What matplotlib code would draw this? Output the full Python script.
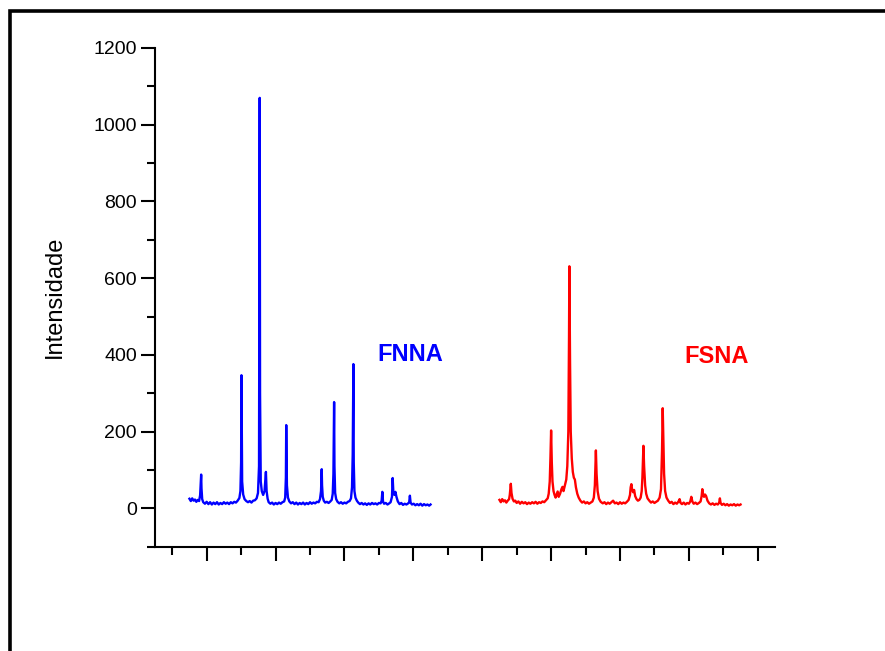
import matplotlib
matplotlib.use('Agg')
import matplotlib.pyplot as plt
import numpy as np
from matplotlib.patches import Rectangle
from matplotlib.ticker import MultipleLocator

plt.rcParams['font.family'] = ['Liberation Sans', 'DejaVu Sans']

# difratogramas (2theta, intensidade)
blue_2theta = [
    10.0, 10.4, 10.8, 11.2, 11.6, 12.0, 12.4, 12.8, 13.1, 13.3, 13.4, 13.5, 13.7, 14.0,
    14.5, 15.0, 15.5, 16.0, 16.5, 17.0, 17.5, 18.0, 18.5, 19.0, 19.5, 20.0, 20.5, 21.0,
    21.5, 22.0, 22.5, 23.0, 23.5, 24.0, 24.5, 24.8, 25.0, 25.1, 25.3, 25.6, 26.0, 26.5,
    27.0, 27.5, 28.0, 28.5, 29.0, 29.5, 29.9, 30.2, 30.4, 30.5, 30.7, 31.0, 31.4, 31.8,
    32.0, 32.2, 32.4, 32.7, 33.0, 33.5, 34.0, 34.5, 35.0, 35.5, 36.0, 36.5, 37.0, 37.5,
    37.8, 38.0, 38.1, 38.3, 38.6, 39.0, 39.5, 40.0, 40.5, 41.0, 41.5, 42.0, 42.5, 43.0,
    43.5, 44.0, 44.5, 45.0, 45.5, 46.0, 46.5, 47.0, 47.5, 47.9, 48.2, 48.4, 48.5, 48.7,
    49.0, 49.4, 49.9, 50.4, 50.9, 51.3, 51.6, 51.8, 52.0, 52.1, 52.3, 52.6, 53.0, 53.5,
    54.0, 54.5, 55.0, 55.5, 56.0, 56.5, 56.9, 57.2, 57.4, 57.6, 57.7, 57.9, 58.2, 58.6,
    59.0, 59.5, 60.0, 60.5, 61.0, 61.5, 62.0, 62.5, 63.0, 63.5, 64.0, 64.5, 65.0, 65.5,
    65.8, 66.0, 66.2, 66.5, 67.0, 67.5, 68.0, 68.4, 68.8, 69.0, 69.2, 69.5, 69.8, 70.1,
    70.5, 71.0, 71.5, 72.0, 72.5, 73.0, 73.5, 73.8, 74.0, 74.2, 74.6, 75.1, 75.6, 76.1,
    76.6, 77.1, 77.6, 78.1, 78.6, 79.1, 79.6, 80.0]
blue_counts = [
    25, 19, 26, 20, 23, 17, 22, 19, 34, 70, 88, 52, 24, 16,
    12, 17, 11, 16, 10, 15, 11, 16, 10, 14, 11, 16, 12, 15,
    11, 16, 13, 17, 15, 20, 27, 45, 120, 347, 70, 36, 24, 19,
    16, 19, 15, 20, 21, 26, 40, 110, 1070, 300, 70, 45, 35, 45,
    70, 95, 45, 25, 16, 12, 15, 10, 14, 11, 15, 12, 16, 18,
    28, 80, 217, 60, 28, 18, 13, 16, 11, 15, 10, 14, 11, 15,
    10, 14, 11, 16, 12, 15, 13, 17, 16, 24, 45, 102, 60, 30,
    20, 15, 17, 14, 18, 22, 38, 90, 277, 110, 40, 24, 17, 13,
    16, 12, 15, 13, 17, 19, 26, 55, 140, 376, 120, 45, 28, 20,
    15, 11, 14, 10, 13, 9, 13, 10, 14, 11, 13, 10, 14, 13,
    20, 43, 18, 12, 14, 10, 13, 16, 30, 79, 42, 35, 43, 30,
    18, 11, 14, 9, 12, 10, 13, 16, 33, 15, 10, 12, 8, 11,
    8, 12, 7, 11, 8, 10, 7, 10]

red_2theta = [
    10.0, 10.4, 10.8, 11.2, 11.6, 12.0, 12.4, 12.8, 13.0, 13.2, 13.3, 13.5, 13.8, 14.2,
    14.6, 15.0, 15.5, 16.0, 16.5, 17.0, 17.5, 18.0, 18.5, 19.0, 19.5, 20.0, 20.5, 21.0,
    21.5, 22.0, 22.5, 23.0, 23.5, 24.0, 24.3, 24.6, 24.8, 25.0, 25.2, 25.4, 25.7, 26.0,
    26.3, 26.6, 26.9, 27.2, 27.6, 28.0, 28.3, 28.6, 29.0, 29.4, 29.7, 30.0, 30.2, 30.3,
    30.5, 30.7, 31.0, 31.3, 31.6, 31.9, 32.2, 32.6, 33.0, 33.5, 34.0, 34.5, 35.0, 35.5,
    36.0, 36.5, 37.0, 37.4, 37.7, 37.9, 38.0, 38.2, 38.5, 38.9, 39.4, 40.0, 40.5, 41.0,
    41.5, 42.0, 42.5, 43.0, 43.5, 44.0, 44.5, 45.0, 45.5, 46.0, 46.5, 47.0, 47.5, 47.9,
    48.1, 48.3, 48.5, 48.8, 49.1, 49.4, 49.8, 50.2, 50.6, 51.0, 51.3, 51.5, 51.7, 51.8,
    52.0, 52.3, 52.6, 53.0, 53.5, 54.0, 54.5, 55.0, 55.5, 56.0, 56.5, 56.9, 57.2, 57.4,
    57.6, 57.8, 58.1, 58.5, 59.0, 59.5, 60.0, 60.5, 61.0, 61.5, 62.0, 62.3, 62.6, 63.0,
    63.5, 64.0, 64.5, 65.0, 65.4, 65.7, 66.0, 66.4, 66.9, 67.4, 67.9, 68.4, 68.7, 68.9,
    69.1, 69.4, 69.7, 70.0, 70.4, 70.9, 71.4, 71.9, 72.4, 72.9, 73.4, 73.8, 74.0, 74.2,
    74.6, 75.1, 75.6, 76.1, 76.6, 77.1, 77.6, 78.1, 78.6, 79.1, 79.6, 80.0]
red_counts = [
    22, 16, 24, 18, 21, 15, 20, 24, 35, 55, 64, 40, 25, 18,
    20, 14, 18, 12, 17, 13, 16, 11, 15, 12, 16, 13, 17, 12,
    16, 14, 18, 16, 21, 26, 38, 70, 130, 203, 120, 70, 45, 35,
    28, 36, 44, 30, 38, 50, 56, 45, 60, 75, 110, 200, 450, 631,
    380, 200, 130, 95, 80, 75, 55, 38, 28, 20, 15, 18, 13, 16,
    12, 15, 18, 28, 60, 120, 151, 90, 45, 25, 17, 13, 16, 11,
    15, 12, 16, 20, 13, 15, 11, 16, 12, 15, 13, 17, 22, 35,
    55, 63, 50, 42, 48, 32, 24, 20, 22, 28, 45, 80, 140, 163,
    110, 60, 38, 26, 20, 15, 18, 14, 17, 20, 28, 50, 150, 261,
    180, 90, 45, 28, 20, 14, 17, 11, 15, 12, 18, 24, 14, 11,
    15, 10, 14, 12, 18, 30, 18, 12, 15, 11, 14, 18, 32, 50,
    38, 30, 36, 32, 20, 13, 10, 13, 9, 12, 10, 15, 26, 14,
    9, 12, 8, 11, 7, 10, 8, 11, 7, 10, 8, 10]

RED_SHIFT = 90  # deslocamento horizontal da segunda amostra

fig = plt.figure(figsize=(8.85, 6.51), dpi=100)
ax = fig.add_axes([155 / 885, 1 - 546.7 / 651, 620 / 885, 498.7 / 651])

ax.plot(blue_2theta, blue_counts, color='#0000FF', lw=1.7)
ax.plot(np.array(red_2theta) + RED_SHIFT, red_counts, color='#FF0000', lw=1.7)

ax.text(74, 400, 'FNNA', color='#0000FF', fontsize=17, fontweight='bold', ha='center', va='center')
ax.text(163, 395, 'FSNA', color='#FF0000', fontsize=17, fontweight='bold', ha='center', va='center')

ax.set_xlim(0, 180)
ax.set_ylim(-100, 1200)
ax.spines['top'].set_visible(False)
ax.spines['right'].set_visible(False)
for s in ('left', 'bottom'):
    ax.spines[s].set_linewidth(1.5)

ax.set_xticks(np.arange(15, 180, 20))
ax.set_xticks(np.arange(5, 180, 20), minor=True)
ax.set_xticklabels([])
ax.set_yticks(np.arange(0, 1201, 200))
ax.yaxis.set_minor_locator(MultipleLocator(100))
ax.tick_params(which='major', direction='out', length=10, width=1.5, labelsize=14, pad=3)
ax.tick_params(which='minor', direction='out', length=6, width=1.5)

fig.text(55 / 885, 1 - 297 / 651, 'Intensidade', rotation=90, fontsize=17,
         ha='center', va='center')

# moldura
fig.patches.append(Rectangle((9.5 / 885, -0.1), 1.2, 1.1 - 11.3 / 651,
                             transform=fig.transFigure, fill=False, lw=2.6, ec='black'))

fig.savefig('out.png', dpi=100)
